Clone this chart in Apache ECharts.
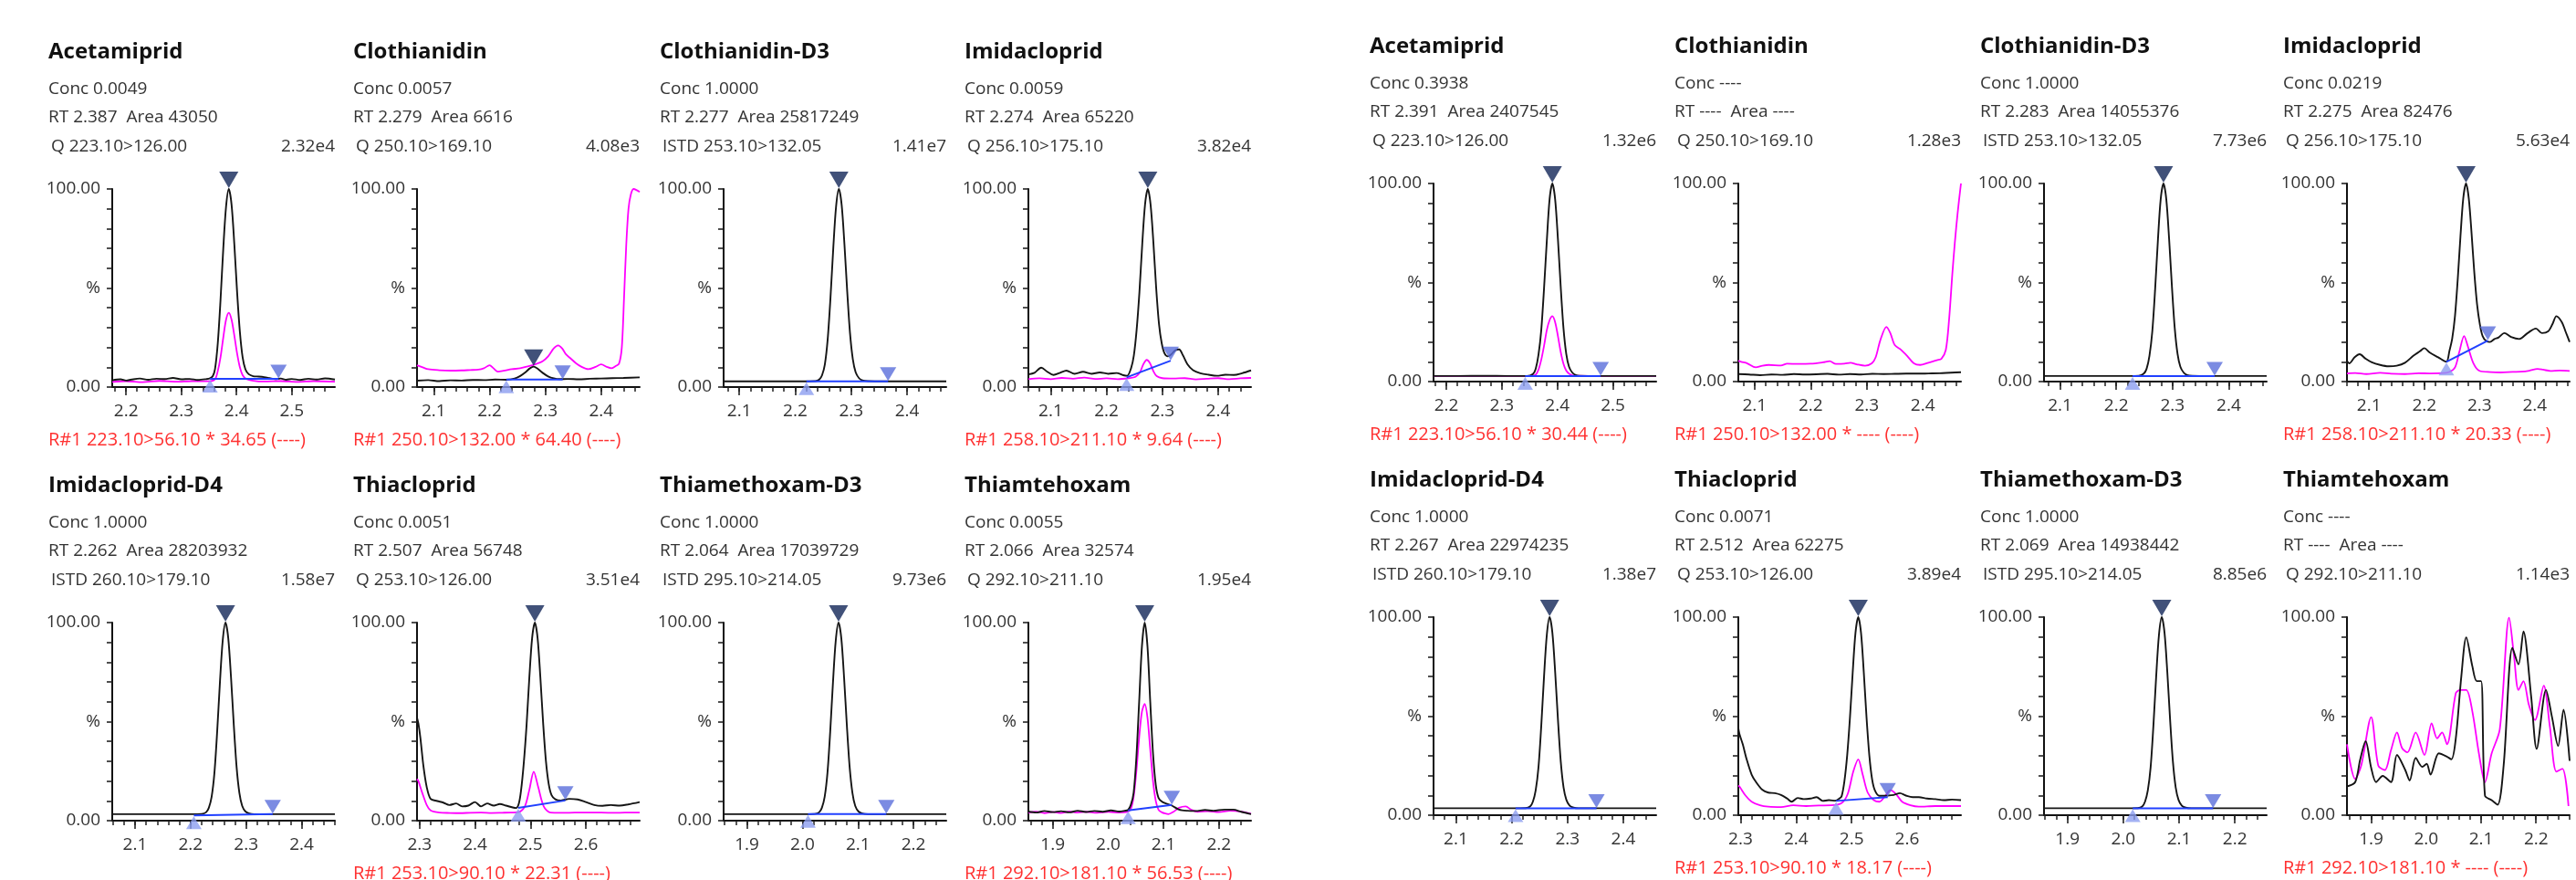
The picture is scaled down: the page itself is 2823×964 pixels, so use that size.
<!DOCTYPE html>
<html><head><meta charset="utf-8">
<script src="https://cdn.jsdelivr.net/npm/echarts@6/dist/echarts.min.js"></script>
<style>html,body{margin:0;padding:0;background:#fff}#c{width:2823px;height:964px}</style>
</head><body><div id="c"></div>
<script>
// ================= DATA =================
const compoundNames = ['Acetamiprid','Clothianidin','Clothianidin-D3','Imidacloprid','Imidacloprid-D4','Thiacloprid','Thiamethoxam-D3','Thiamtehoxam'];
const transitions = ['Q 223.10>126.00','Q 250.10>169.10','ISTD 253.10>132.05','Q 256.10>175.10','ISTD 260.10>179.10','Q 253.10>126.00','ISTD 295.10>214.05','Q 292.10>211.10'];
const ratioTransitions = ['R#1 223.10>56.10','R#1 250.10>132.00',null,'R#1 258.10>211.10',null,'R#1 253.10>90.10',null,'R#1 292.10>181.10'];

const leftConc = ['0.0049','0.0057','1.0000','0.0059','1.0000','0.0051','1.0000','0.0055'];
const leftRT = ['2.387','2.279','2.277','2.274','2.262','2.507','2.064','2.066'];
const leftArea = ['43050','6616','25817249','65220','28203932','56748','17039729','32574'];
const leftMaxIntensity = ['2.32e4','4.08e3','1.41e7','3.82e4','1.58e7','3.51e4','9.73e6','1.95e4'];
const leftRatio = ['34.65','64.40',null,'9.64',null,'22.31',null,'56.53'];

const rightConc = ['0.3938','----','1.0000','0.0219','1.0000','0.0071','1.0000','----'];
const rightRT = ['2.391','----','2.283','2.275','2.267','2.512','2.069','----'];
const rightArea = ['2407545','----','14055376','82476','22974235','62275','14938442','----'];
const rightMaxIntensity = ['1.32e6','1.28e3','7.73e6','5.63e4','1.38e7','3.89e4','8.85e6','1.14e3'];
const rightRatio = ['30.44','----',null,'20.33',null,'18.17',null,'----'];

const leftXRange = [[2.175,2.578],[2.070,2.469],[2.072,2.470],[2.060,2.459],[2.059,2.460],[2.2955,2.697],[1.858,2.259],[1.856,2.258]];
const rightXRange = [[2.177,2.578],[2.071,2.468],[2.0715,2.4675],[2.060,2.463],[2.060,2.459],[2.296,2.697],[1.858,2.257],[1.856,2.261]];
const xTickLabels = [[2.2,2.3,2.4,2.5],[2.1,2.2,2.3,2.4],[2.1,2.2,2.3,2.4],[2.1,2.2,2.3,2.4],[2.1,2.2,2.3,2.4],[2.3,2.4,2.5,2.6],[1.9,2.0,2.1,2.2],[1.9,2.0,2.1,2.2]];
const yTickLabels = {0:'0.00',50:'%',100:'100.00'};

// ---- left sample traces (x = min, y = %) ----
const L1_black = [[2.175,3.4],[2.19,3.9],[2.20,3.3],[2.21,3.8],[2.225,4.3],[2.24,3.7],[2.255,4.2],[2.27,4.0],[2.285,4.6],[2.30,3.9],[2.315,4.1],[2.33,3.6],[2.345,4.0],[2.352,4.4],[2.357,5.5],[2.361,9],[2.366,22],[2.371,44],[2.376,70],[2.381,91],[2.386,100],[2.391,92],[2.396,72],[2.401,48],[2.406,28],[2.411,15],[2.416,9],[2.422,6.5],[2.43,5.5],[2.44,5.3],[2.45,5.0],[2.46,4.5],[2.47,4.0],[2.48,4.3],[2.49,3.7],[2.50,4.1],[2.515,3.6],[2.53,4.2],[2.545,3.8],[2.56,4.4],[2.578,3.8]];
const L1_magenta = [[2.175,2.6],[2.20,3.0],[2.23,2.5],[2.26,3.1],[2.29,2.7],[2.32,3.0],[2.35,2.9],[2.361,4],[2.366,8],[2.371,15],[2.376,25],[2.381,34],[2.386,37.5],[2.391,34],[2.396,26],[2.401,17],[2.406,10],[2.411,6],[2.418,4],[2.43,3.2],[2.45,2.8],[2.48,3.0],[2.51,2.6],[2.54,3.0],[2.578,2.7]];
const L1_peak = [[2.386,100],[2.352,4.1],[2.476,4.1]];

const L2_black = [[2.07,3.2],[2.09,3.5],[2.11,3.0],[2.13,3.4],[2.15,3.3],[2.17,3.6],[2.19,3.5],[2.21,3.8],[2.23,3.7],[2.245,4.3],[2.255,5.6],[2.265,7.6],[2.272,9.4],[2.279,10.3],[2.286,9.3],[2.295,7.2],[2.305,5.4],[2.315,4.4],[2.325,4.0],[2.34,4.1],[2.36,3.9],[2.38,4.2],[2.40,4.3],[2.42,4.5],[2.44,4.6],[2.469,4.9]];
const L2_magenta = [[2.07,11.0],[2.08,10.0],[2.09,9.0],[2.11,8.5],[2.13,8.3],[2.15,8.4],[2.165,8.6],[2.18,8.8],[2.19,9.5],[2.20,11.0],[2.207,9.5],[2.215,7.8],[2.225,8.2],[2.24,9.0],[2.255,9.5],[2.27,10.5],[2.285,11.8],[2.295,13],[2.305,15.5],[2.315,19.5],[2.323,21],[2.33,19.5],[2.337,16.5],[2.345,14.5],[2.355,12],[2.365,10.2],[2.377,9.0],[2.39,10.2],[2.40,11.5],[2.41,10.2],[2.418,9.5],[2.426,10.6],[2.432,11.8],[2.437,20],[2.441,45],[2.445,72],[2.449,90],[2.453,97],[2.458,100],[2.463,99.5],[2.469,98.5]];
const L2_peak = [[2.279,10.3],[2.230,3.8],[2.331,3.8]];

const L3_black = [[2.072,2.9],[2.12,2.9],[2.17,2.9],[2.21,2.9],[2.236,3.0],[2.243,3.8],[2.248,6],[2.253,11.5],[2.258,24],[2.263,45],[2.268,70],[2.273,91],[2.278,100],[2.283,92],[2.288,72],[2.293,48],[2.298,27],[2.303,14],[2.308,7.5],[2.314,4.5],[2.32,3.4],[2.33,3.0],[2.36,2.9],[2.42,2.9],[2.47,2.9]];
const L3_peak = [[2.278,100],[2.220,2.9],[2.366,2.9]];

const L4_black = [[2.060,6.4],[2.071,7.2],[2.083,9.8],[2.094,7.7],[2.105,6.1],[2.117,7.2],[2.128,8.3],[2.143,6.7],[2.158,7.7],[2.173,6.7],[2.188,7.4],[2.203,6.7],[2.218,7.1],[2.230,6.0],[2.237,5.7],[2.244,9.5],[2.249,16],[2.254,29],[2.259,48],[2.264,72],[2.269,92],[2.274,100],[2.279,92],[2.284,73],[2.289,50],[2.294,32],[2.299,22],[2.304,17],[2.310,15.5],[2.316,16.5],[2.323,18.5],[2.330,19],[2.337,16],[2.345,11.5],[2.355,8.5],[2.368,7.0],[2.383,6.2],[2.398,5.7],[2.413,6.2],[2.428,6.1],[2.443,7.0],[2.459,8.4]];
const L4_magenta = [[2.06,4.0],[2.08,4.4],[2.10,4.0],[2.12,4.6],[2.14,4.2],[2.16,4.8],[2.18,4.1],[2.20,4.4],[2.22,4.0],[2.24,4.5],[2.252,5.2],[2.26,7.5],[2.266,11.5],[2.272,13.7],[2.278,12],[2.284,8],[2.29,5.5],[2.30,4.5],[2.32,4.3],[2.34,4.5],[2.36,3.9],[2.38,4.2],[2.40,4.5],[2.42,4.0],[2.44,4.4],[2.459,4.6]];
const L4_peak = [[2.274,100],[2.236,4.9],[2.315,13.3]];

const L5_black = [[2.059,3.3],[2.10,3.3],[2.15,3.3],[2.20,3.3],[2.22,3.4],[2.228,4.2],[2.233,6.5],[2.238,12],[2.243,24],[2.248,45],[2.253,70],[2.258,91],[2.263,100],[2.268,92],[2.273,72],[2.278,48],[2.283,27],[2.288,14],[2.293,7.5],[2.299,4.6],[2.306,3.6],[2.315,3.3],[2.36,3.3],[2.41,3.3],[2.46,3.3]];
const L5_peak = [[2.263,100],[2.206,2.6],[2.348,3.3]];

const L6_black = [[2.2955,52],[2.298,49],[2.3015,42],[2.307,27.7],[2.313,17],[2.320,11],[2.332,9.9],[2.343,9.1],[2.354,7.9],[2.366,8.7],[2.377,7.2],[2.388,7.6],[2.400,9.4],[2.411,7.2],[2.422,8.7],[2.434,7.6],[2.445,8.4],[2.456,7.6],[2.468,6.7],[2.474,6.4],[2.479,8.5],[2.483,15],[2.488,29],[2.493,48],[2.498,72],[2.503,92],[2.508,100],[2.513,92],[2.518,72],[2.523,49],[2.528,30],[2.533,18.5],[2.538,13],[2.545,10.8],[2.555,10.2],[2.570,11],[2.585,10.7],[2.600,9.4],[2.615,7.9],[2.630,7.5],[2.645,7.9],[2.661,7.6],[2.676,8.2],[2.697,9.4]];
const L6_magenta = [[2.2955,21],[2.298,20],[2.305,14],[2.313,7.9],[2.320,5.2],[2.336,4.1],[2.355,3.9],[2.373,3.8],[2.392,4.0],[2.411,4.1],[2.43,3.9],[2.449,4.0],[2.465,4.1],[2.479,4.3],[2.490,7.2],[2.498,15.5],[2.506,24.7],[2.514,17],[2.524,7.2],[2.536,4.1],[2.555,4.0],[2.570,4.0],[2.59,4.1],[2.615,4.1],[2.64,4.0],[2.661,4.0],[2.68,4.1],[2.697,4.1]];
const L6_peak = [[2.508,100],[2.478,6.4],[2.563,10.2]];

const L7_black = [[1.858,3.3],[1.90,3.3],[1.95,3.3],[2.00,3.3],[2.022,3.4],[2.03,4.2],[2.035,6.5],[2.04,12],[2.045,24],[2.05,45],[2.055,70],[2.06,91],[2.065,100],[2.07,92],[2.075,72],[2.08,48],[2.085,27],[2.09,14],[2.095,7.5],[2.101,4.6],[2.108,3.6],[2.118,3.3],[2.16,3.3],[2.21,3.3],[2.259,3.3]];
const L7_peak = [[2.065,100],[2.010,3.3],[2.151,3.3]];

const L8_black = [[1.856,4.6],[1.87,4.1],[1.885,4.9],[1.90,4.3],[1.915,4.8],[1.93,4.2],[1.945,5.0],[1.96,4.4],[1.975,4.9],[1.99,4.5],[2.005,5.2],[2.02,4.6],[2.03,5.0],[2.036,5.4],[2.041,8],[2.046,14],[2.051,32],[2.056,60],[2.061,88],[2.066,100],[2.071,88],[2.076,60],[2.081,34],[2.086,18],[2.091,11.5],[2.098,9.4],[2.105,8.6],[2.115,7.6],[2.128,5.6],[2.143,5.0],[2.158,4.9],[2.175,5.4],[2.19,5.0],[2.21,5.6],[2.226,5.6],[2.24,4.5],[2.258,3.3]];
const L8_magenta = [[1.856,4.0],[1.87,4.5],[1.885,3.8],[1.90,4.4],[1.915,3.9],[1.93,4.6],[1.945,4.1],[1.96,4.5],[1.98,4.0],[2.00,4.4],[2.02,4.1],[2.035,4.5],[2.041,6],[2.046,12],[2.051,25],[2.056,42],[2.061,55],[2.066,58.9],[2.071,52],[2.076,36],[2.081,20],[2.086,10],[2.091,5.5],[2.097,4.2],[2.103,3.6],[2.109,3.3],[2.118,4.5],[2.128,6.5],[2.14,7.2],[2.15,5.5],[2.162,4.5],[2.18,4.8],[2.2,4.3],[2.22,5.0],[2.24,4.6],[2.258,3.5]];
const L8_peak = [[2.066,100],[2.036,5.2],[2.115,7.9]];

// ---- right sample traces ----
const R1_black = [[2.177,2.8],[2.22,2.8],[2.27,2.9],[2.31,2.8],[2.345,2.8],[2.356,3.8],[2.361,6.5],[2.366,13.5],[2.371,26],[2.376,47],[2.381,71],[2.386,92],[2.391,100],[2.396,92],[2.401,72],[2.406,48],[2.411,27],[2.416,14],[2.421,7.5],[2.427,4.5],[2.433,3.3],[2.44,2.9],[2.48,2.8],[2.53,2.8],[2.578,2.8]];
const R1_magenta = [[2.177,2.8],[2.25,2.8],[2.30,2.8],[2.35,2.8],[2.361,3.5],[2.366,6],[2.371,11],[2.376,18],[2.381,26],[2.386,31],[2.391,33],[2.396,30],[2.401,23],[2.406,15],[2.411,9],[2.416,5.5],[2.422,3.8],[2.43,3.0],[2.47,2.8],[2.578,2.8]];
const R1_peak = [[2.391,100],[2.342,2.8],[2.478,2.8]];

const R2_black = [[2.071,3.8],[2.09,3.6],[2.11,3.2],[2.13,3.6],[2.15,3.4],[2.17,3.8],[2.19,3.6],[2.21,3.7],[2.23,3.9],[2.25,3.5],[2.27,3.8],[2.29,3.6],[2.31,3.9],[2.33,3.8],[2.35,3.9],[2.37,4.0],[2.39,4.0],[2.41,4.1],[2.43,4.2],[2.45,4.5],[2.468,4.7]];
const R2_magenta = [[2.071,10.5],[2.076,10],[2.087,9.2],[2.102,7.2],[2.114,8],[2.125,8.4],[2.147,8.1],[2.158,9],[2.177,8.9],[2.2,9],[2.222,9.7],[2.234,10.3],[2.245,8.9],[2.26,9],[2.271,9.5],[2.282,8.7],[2.297,8],[2.309,9.2],[2.316,12.3],[2.324,20.7],[2.335,27.6],[2.342,24.5],[2.35,18.4],[2.361,16.1],[2.372,13],[2.384,9.2],[2.395,8.4],[2.41,9.5],[2.425,10.8],[2.433,11.5],[2.441,16],[2.447,32],[2.4525,54],[2.457,70],[2.462,85],[2.468,100]];
const R2_peak = null;

const R3_black = [[2.0715,2.8],[2.12,2.8],[2.17,2.8],[2.22,2.8],[2.24,2.9],[2.249,4],[2.254,6.5],[2.259,13],[2.264,25],[2.269,46],[2.274,71],[2.279,92],[2.284,100],[2.289,92],[2.294,72],[2.299,48],[2.304,27],[2.309,14],[2.314,7.5],[2.32,4.5],[2.326,3.3],[2.335,2.9],[2.37,2.8],[2.42,2.8],[2.4675,2.8]];
const R3_peak = [[2.284,100],[2.229,2.8],[2.375,2.8]];

const R4_black = [[2.060,10.5],[2.064,9.2],[2.074,12.3],[2.083,13.8],[2.094,11.5],[2.105,9.7],[2.120,8.4],[2.135,7.7],[2.150,8],[2.165,9.5],[2.180,13],[2.192,15.3],[2.200,16.9],[2.210,14.6],[2.225,12.3],[2.240,10],[2.2455,15.5],[2.2505,21.7],[2.2555,33],[2.2605,51.6],[2.2655,73.6],[2.2705,92.5],[2.2755,100],[2.2805,92.5],[2.2855,75],[2.2905,55],[2.2955,39],[2.3005,29],[2.3055,23],[2.312,20.5],[2.319,20],[2.327,21.5],[2.334,22.2],[2.345,24.5],[2.357,22.5],[2.372,21.5],[2.387,24.5],[2.402,26.8],[2.413,24.5],[2.424,25.3],[2.432,29],[2.439,33],[2.449,30],[2.456,25],[2.463,20]];
const R4_magenta = [[2.060,4.1],[2.075,4.3],[2.095,3.8],[2.12,4.4],[2.14,4.0],[2.165,3.8],[2.19,4.2],[2.21,4.1],[2.24,4.4],[2.255,6.9],[2.263,14.6],[2.272,23],[2.279,17.6],[2.289,9.2],[2.300,5.4],[2.32,4.8],[2.338,4.6],[2.36,4.9],[2.375,5],[2.39,5.5],[2.405,6.4],[2.415,6.0],[2.428,5.4],[2.445,5.6],[2.463,5.4]];
const R4_peak = [[2.2755,100],[2.240,10],[2.315,20.7]];

const R5_black = [[2.06,3.5],[2.10,3.5],[2.15,3.5],[2.20,3.5],[2.225,3.6],[2.233,4.4],[2.238,6.8],[2.243,12.5],[2.248,24],[2.253,45],[2.258,70],[2.263,91],[2.268,100],[2.273,92],[2.278,72],[2.283,48],[2.288,27],[2.293,14],[2.298,7.8],[2.304,4.8],[2.311,3.8],[2.32,3.5],[2.36,3.5],[2.41,3.5],[2.459,3.5]];
const R5_peak = [[2.268,100],[2.207,3.5],[2.352,3.5]];

const R6_black = [[2.296,44],[2.298,41],[2.304,35.8],[2.311,28.2],[2.320,20.5],[2.328,16.7],[2.339,12.9],[2.350,11.4],[2.362,11.1],[2.373,10.2],[2.384,8.4],[2.392,6.8],[2.403,8.7],[2.414,8.1],[2.426,8.4],[2.437,9.1],[2.448,7.2],[2.459,7.6],[2.471,7.3],[2.478,8.4],[2.482,9.5],[2.487,17],[2.492,30],[2.497,49],[2.502,72],[2.507,92],[2.512,100],[2.517,92],[2.522,72],[2.527,49],[2.532,30],[2.537,18],[2.542,12.5],[2.550,9.8],[2.565,9.9],[2.576,10.2],[2.587,11.1],[2.598,9.9],[2.610,9.1],[2.621,9.1],[2.636,8.4],[2.651,8.1],[2.666,7.6],[2.681,7.9],[2.697,7.6]];
const R6_magenta = [[2.296,15],[2.298,14.5],[2.309,9.9],[2.320,6.8],[2.335,5],[2.350,4.3],[2.373,4.1],[2.395,5],[2.418,4.6],[2.441,4.9],[2.463,5],[2.482,6.1],[2.493,10.7],[2.503,22],[2.512,28.2],[2.520,20.5],[2.529,11.4],[2.540,7.6],[2.550,6.8],[2.561,9.9],[2.570,12.6],[2.580,10.7],[2.591,6.8],[2.606,5],[2.621,4.3],[2.651,4.6],[2.697,4.6]];
const R6_peak = [[2.512,100],[2.472,7.2],[2.565,9.1]];

const R7_black = [[1.858,3.5],[1.90,3.5],[1.95,3.5],[2.00,3.5],[2.026,3.6],[2.034,4.4],[2.039,6.8],[2.044,12.5],[2.049,24],[2.054,45],[2.059,70],[2.064,91],[2.069,100],[2.074,92],[2.079,72],[2.084,48],[2.089,27],[2.094,14],[2.099,7.8],[2.105,4.8],[2.112,3.8],[2.122,3.5],[2.16,3.5],[2.21,3.5],[2.257,3.5]];
const R7_peak = [[2.069,100],[2.017,3.5],[2.161,3.5]];

const R8_black = [[1.856,14.5],[1.871,16.7],[1.880,28],[1.890,37.3],[1.900,24],[1.909,16.7],[1.921,19.8],[1.936,16.7],[1.947,30.4],[1.962,22.8],[1.970,17.5],[1.981,28.9],[1.993,24.4],[2.001,25.9],[2.008,20.5],[2.023,31.2],[2.037,29.7],[2.046,28.2],[2.054,38.8],[2.064,70],[2.073,89.8],[2.084,75.3],[2.092,67.7],[2.100,67.7],[2.107,9.9],[2.119,7.6],[2.130,5.3],[2.141,25.1],[2.157,84.5],[2.168,76.1],[2.177,92.8],[2.191,60.1],[2.201,33.5],[2.218,63.2],[2.229,49.5],[2.240,35],[2.250,53.3],[2.261,27.4]];
const R8_magenta = [[1.856,35.8],[1.871,18.3],[1.882,25.1],[1.900,49.5],[1.913,25],[1.925,22.8],[1.936,32.7],[1.947,41.8],[1.956,34],[1.966,31.7],[1.981,41.8],[1.997,30.4],[2.010,46.4],[2.020,38.8],[2.029,41.8],[2.038,35.8],[2.054,61.6],[2.062,63.2],[2.073,63.2],[2.084,52.5],[2.096,31.2],[2.107,16.7],[2.119,31],[2.134,43.4],[2.151,99.7],[2.160,80],[2.168,63.2],[2.177,67.7],[2.187,55.6],[2.198,48],[2.214,65.4],[2.225,44.9],[2.237,22],[2.248,23.4],[2.259,4.6]];
const R8_peak = null;

// ================= BUILD =================
const FONT = '"Open Sans", "Noto Sans", sans-serif';
const halves = [
  {conc:leftConc, rt:leftRT, area:leftArea, maxI:leftMaxIntensity, ratio:leftRatio, ranges:leftXRange,
   black:[L1_black,L2_black,L3_black,L4_black,L5_black,L6_black,L7_black,L8_black],
   magenta:[L1_magenta,L2_magenta,null,L4_magenta,null,L6_magenta,null,L8_magenta],
   peaks:[L1_peak,L2_peak,L3_peak,L4_peak,L5_peak,L6_peak,L7_peak,L8_peak],
   lefts:[123,457,793,1127], tops:[207,682]},
  {conc:rightConc, rt:rightRT, area:rightArea, maxI:rightMaxIntensity, ratio:rightRatio, ranges:rightXRange,
   black:[R1_black,R2_black,R3_black,R4_black,R5_black,R6_black,R7_black,R8_black],
   magenta:[R1_magenta,R2_magenta,null,R4_magenta,null,R6_magenta,null,R8_magenta],
   peaks:[R1_peak,R2_peak,R3_peak,R4_peak,R5_peak,R6_peak,R7_peak,R8_peak],
   lefts:[1571,1905,2240,2572], tops:[201,676]}
];
const GW = 244, GH = 217;
const grids=[], xAxes=[], yAxes=[], series=[], graphics=[];

function txt(x, y, text, size, color, weight, align){
  graphics.push({type:'text', x:x, y:y, z:10, silent:true,
    style:{text:text, fontSize:size, fontFamily:FONT, fontWeight:weight||'normal', fill:color,
           align:align||'left', verticalAlign:'middle', textAlign:align||'left', textVerticalAlign:'middle'}});
}

halves.forEach((H, h) => {
  for (let p = 0; p < 8; p++) {
    const r = Math.floor(p/4), c = p % 4;
    const g = h*8 + p;
    const left = H.lefts[c], top = H.tops[r];
    const [mn, mx] = H.ranges[p];
    grids.push({left:left, top:top, width:GW, height:GH});
    const major = xTickLabels[p];
    const minor = [];
    for (let k = Math.ceil(mn*50 - 1e-9); k <= Math.floor(mx*50 + 1e-9); k++) minor.push(k/50);
    xAxes.push({gridIndex:g, type:'value', position:'bottom', min:mn, max:mx,
      axisLine:{show:true, onZero:false, lineStyle:{color:'#111', width:2}},
      axisTick:{show:true, length:9, customValues:major, lineStyle:{color:'#222', width:1.6}},
      axisLabel:{show:true, customValues:major, formatter:v=>Number(v).toFixed(1), fontSize:19, fontFamily:FONT, color:'#333', margin:17},
      splitLine:{show:false}});
    xAxes.push({gridIndex:g, type:'value', position:'bottom', min:mn, max:mx,
      axisLine:{show:false},
      axisTick:{show:true, length:5, customValues:minor, lineStyle:{color:'#222', width:1.5}},
      axisLabel:{show:false}, splitLine:{show:false}});
    yAxes.push({gridIndex:g, type:'value', min:0, max:100, interval:10,
      axisLine:{show:true, lineStyle:{color:'#111', width:2}},
      axisTick:{show:true, length:6, lineStyle:{color:'#222', width:1.6}},
      axisLabel:{formatter:v => yTickLabels[v] !== undefined ? yTickLabels[v] : '', fontSize:19, fontFamily:FONT, color:'#333', margin:13},
      splitLine:{show:false}});
    const xi = 2*g, yi = g;
    if (H.magenta[p]) series.push({type:'line', xAxisIndex:xi, yAxisIndex:yi, data:H.magenta[p], showSymbol:false, smooth:0.3, silent:true,
      lineStyle:{color:'#ff00ff', width:1.8}, z:2});
    series.push({type:'line', xAxisIndex:xi, yAxisIndex:yi, data:H.black[p], showSymbol:false, smooth:0.3, silent:true,
      lineStyle:{color:'#151515', width:1.9}, z:3});
    const pk = H.peaks[p];
    if (pk) {
      series.push({type:'line', xAxisIndex:xi, yAxisIndex:yi, data:[pk[1], pk[2]], showSymbol:false, silent:true,
        lineStyle:{color:'#2040ff', width:2}, z:4});
      series.push({type:'scatter', xAxisIndex:xi, yAxisIndex:yi, clip:false, silent:true, z:5,
        data:[
          {value:pk[0], symbol:'triangle', symbolRotate:180, symbolSize:[21,18], symbolOffset:[0,-10], itemStyle:{color:'#122658'}},
          {value:pk[1], symbol:'triangle', symbolRotate:0, symbolSize:[17,14], symbolOffset:[0,8], itemStyle:{color:'#8c9ef0'}},
          {value:pk[2], symbol:'triangle', symbolRotate:180, symbolSize:[18,15], symbolOffset:[0,-8], itemStyle:{color:'#5a6edb'}}
        ]});
    }
    // texts
    const tx = left - 70;
    txt(tx, top - 150, compoundNames[p], 24, '#111', 'bold');
    txt(tx, top - 109, 'Conc ' + H.conc[p], 19, '#333');
    txt(tx, top - 78, 'RT ' + H.rt[p] + '  Area ' + H.area[p], 19, '#333');
    txt(tx + 3, top - 46, transitions[p], 19, '#333');
    txt(left + GW, top - 46, H.maxI[p], 19, '#333', 'normal', 'right');
    if (ratioTransitions[p]) txt(tx, top + GH + 58, ratioTransitions[p] + ' * ' + H.ratio[p] + ' (----)', 20, '#ff3030');
  }
});

const chart = echarts.init(document.getElementById('c'), null, {renderer:'canvas', width:2823, height:964});
chart.setOption({animation:false, backgroundColor:'#fff', grid:grids, xAxis:xAxes, yAxis:yAxes, series:series, graphic:graphics});
</script></body></html>
